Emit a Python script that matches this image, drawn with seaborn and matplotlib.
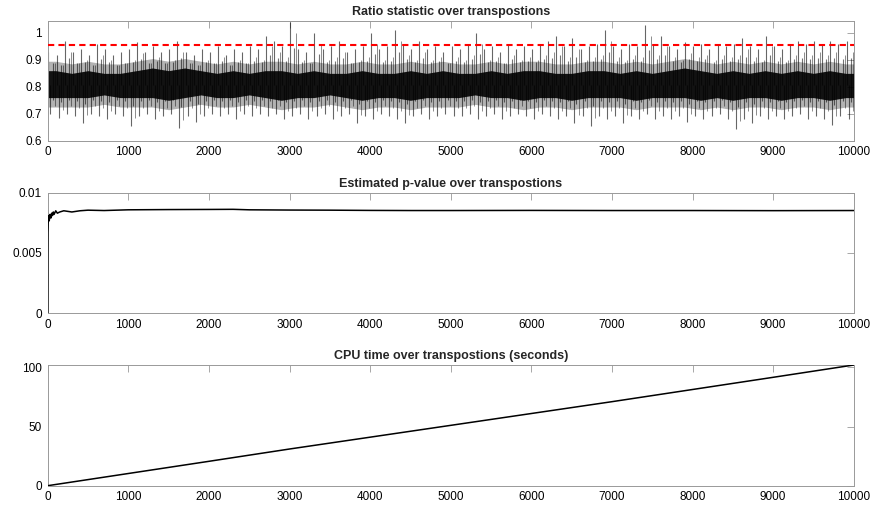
import numpy as np
import pandas as pd
import seaborn as sns
import matplotlib.pyplot as plt
from matplotlib.ticker import FuncFormatter

# ---- data ----
# panel 1: ratio statistic, 10000 transpositions, summarised per 100-wide bin
bin_width = 100
ratio_hi = [0.93, 0.92, 0.97, 0.93, 0.94, 0.92, 0.96, 0.94, 0.92, 0.93,
            0.94, 0.965, 0.93, 0.95, 0.93, 0.94, 0.97, 0.93, 0.92, 0.94,
            0.93, 0.95, 0.92, 0.94, 0.93, 0.95, 0.94, 0.99, 0.97, 0.95,
            1.04, 0.94, 0.93, 1.00, 0.94, 0.95, 0.97, 0.93, 0.94, 0.95,
            1.00, 0.94, 0.95, 1.01, 0.96, 0.94, 0.97, 0.94, 0.95, 0.93,
            0.95, 0.94, 0.96, 1.00, 0.94, 0.95, 0.93, 0.96, 0.94, 0.95,
            0.94, 0.96, 0.97, 0.99, 0.95, 0.98, 0.94, 0.95, 0.96, 1.01,
            0.95, 0.94, 0.96, 0.95, 1.03, 0.96, 0.99, 0.95, 0.94, 0.965,
            0.95, 0.96, 0.94, 0.96, 0.95, 0.96, 0.98, 0.95, 0.94, 0.99,
            0.95, 0.94, 0.96, 0.97, 0.96, 0.97, 0.96, 0.97, 0.96, 0.97]
ratio_lo = [0.70, 0.685, 0.70, 0.69, 0.665, 0.70, 0.69, 0.68, 0.70, 0.69,
            0.655, 0.69, 0.70, 0.68, 0.69, 0.70, 0.648, 0.69, 0.67, 0.69,
            0.70, 0.69, 0.70, 0.68, 0.70, 0.69, 0.70, 0.69, 0.70, 0.68,
            0.69, 0.70, 0.68, 0.69, 0.70, 0.68, 0.69, 0.70, 0.665, 0.69,
            0.68, 0.70, 0.69, 0.68, 0.665, 0.69, 0.70, 0.68, 0.69, 0.70,
            0.69, 0.69, 0.70, 0.68, 0.69, 0.70, 0.68, 0.69, 0.70, 0.69,
            0.68, 0.70, 0.69, 0.68, 0.69, 0.665, 0.69, 0.655, 0.69, 0.68,
            0.69, 0.665, 0.69, 0.68, 0.70, 0.68, 0.69, 0.68, 0.69, 0.67,
            0.69, 0.68, 0.69, 0.70, 0.68, 0.645, 0.68, 0.665, 0.69, 0.68,
            0.69, 0.68, 0.69, 0.70, 0.68, 0.69, 0.68, 0.66, 0.69, 0.68]
# dense core of the trace, per 200-wide bin
core_width = 200
core_hi = [0.87, 0.86, 0.87, 0.86, 0.86, 0.87, 0.88, 0.87, 0.88, 0.87,
           0.86, 0.87, 0.86, 0.87, 0.87, 0.86, 0.87, 0.86, 0.86, 0.87,
           0.86, 0.86, 0.87, 0.86, 0.87, 0.86, 0.86, 0.87, 0.86, 0.87,
           0.87, 0.86, 0.86, 0.87, 0.87, 0.86, 0.87, 0.86, 0.87, 0.88,
           0.87, 0.86, 0.87, 0.86, 0.87, 0.86, 0.87, 0.86, 0.87, 0.86]
core_lo = [0.75, 0.75, 0.75, 0.76, 0.75, 0.75, 0.75, 0.74, 0.75, 0.76,
           0.75, 0.75, 0.76, 0.75, 0.74, 0.75, 0.75, 0.76, 0.75, 0.74,
           0.75, 0.75, 0.74, 0.75, 0.75, 0.75, 0.76, 0.75, 0.75, 0.74,
           0.75, 0.75, 0.74, 0.75, 0.75, 0.75, 0.74, 0.75, 0.75, 0.75,
           0.74, 0.75, 0.74, 0.75, 0.75, 0.74, 0.75, 0.75, 0.74, 0.75]
ratio_center = 0.805
threshold = 0.955

# panel 2: estimated p-value
pval_x = [0, 1, 2, 3, 5, 8, 10, 15, 20, 25, 30, 40, 50, 60, 70, 80, 100, 120,
          150, 200, 300, 400, 500, 700, 1000, 1500, 2000, 2300, 2500, 3000,
          3500, 4000, 4500, 5000, 6000, 7000, 8000, 9000, 10000]
pval_y = [0, 0, 0.0050, 0.0067, 0.0071, 0.0080, 0.0076, 0.0081, 0.0077, 0.0080,
          0.0082, 0.0079, 0.0083, 0.0081, 0.0084, 0.0082, 0.0085, 0.0083,
          0.0084, 0.0085, 0.0084, 0.0085, 0.00855, 0.00852, 0.00858, 0.00860,
          0.00861, 0.00862, 0.00858, 0.00856, 0.00855, 0.00853, 0.00852,
          0.00852, 0.00853, 0.00852, 0.00852, 0.00851, 0.00852]

# panel 3: cpu time
cpu_x = [0, 1000, 2000, 3000, 4000, 5000, 6000, 7000, 8000, 9000, 10000]
cpu_y = [0, 10.3, 20.6, 31.0, 41.0, 51.0, 61.0, 71.0, 81.3, 91.6, 102.0]

titles = ["Ratio statistic over transpostions",
          "Estimated p-value over transpostions",
          "CPU time over transpostions (seconds)"]

# ---- styling ----
sns.set_theme(style="white")
plt.rcParams['font.family'] = ['Liberation Sans', 'DejaVu Sans']
edge = '0.6'

fig = plt.figure(figsize=(8.73, 5.08), dpi=100)
left, width = 0.0546, 0.9234
ax1 = fig.add_axes([left, 0.723, width, 0.236])
ax2 = fig.add_axes([left, 0.3833, width, 0.2374])
ax3 = fig.add_axes([left, 0.0439, width, 0.2376])

def gfmt(v, pos):
    return '%g' % v

for ax, t in zip([ax1, ax2, ax3], titles):
    ax.set_xlim(0, 10000)
    ax.set_xticks(range(0, 10001, 1000))
    ax.tick_params(direction='in', top=True, right=True, length=5, width=0.6,
                   color=edge, labelsize=8.5, labelcolor='black', pad=4)
    for s in ax.spines.values():
        s.set_color(edge)
        s.set_linewidth(0.7)
    ax.yaxis.set_major_formatter(FuncFormatter(gfmt))
    ax.set_title(t, fontsize=9, fontweight='bold', pad=4)

# panel 1: dense core plus spikes out to the per-bin extremes
hi = np.array(ratio_hi)
lo = np.array(ratio_lo)
bins = np.arange(len(hi)) * bin_width
cx = np.arange(len(core_hi)) * core_width + core_width / 2
cx = np.concatenate([[0], cx, [10000]])
c_lo = np.array([core_lo[0]] + core_lo + [core_lo[-1]])
c_hi = np.array([core_hi[0]] + core_hi + [core_hi[-1]])
ax1.fill_between(cx, c_lo - 0.025, c_hi + 0.025, color='black', lw=0, alpha=0.3)
ax1.fill_between(cx, c_lo + 0.01, c_hi - 0.01, color='black', lw=0, alpha=0.9)
# spikes: full length to the read extremes, and partial ones in between
ax1.vlines(bins + 10, ratio_center, hi, color='black', lw=0.8, alpha=0.6)
ax1.vlines(bins + 35, lo, ratio_center, color='black', lw=0.8, alpha=0.6)
ax1.vlines(bins + 60, (lo + ratio_center) / 2, (hi + ratio_center) / 2 + 0.02,
           color='black', lw=0.8, alpha=0.55)
ax1.vlines(bins + 85, lo + 0.03, hi - 0.04, color='black', lw=0.7, alpha=0.45)
ax1.axhline(threshold, color='red', lw=1.5, ls=(0, (3, 2)), zorder=3)
ax1.set_ylim(0.6, 1.045)
ax1.set_yticks([0.6, 0.7, 0.8, 0.9, 1.0])

# panel 2
pdf = pd.DataFrame({'x': pval_x, 'p': pval_y})
sns.lineplot(data=pdf, x='x', y='p', ax=ax2, color='black', lw=1.1, zorder=3)
ax2.set_ylim(0, 0.01)
ax2.set_yticks([0, 0.005, 0.01])

# panel 3
cdf = pd.DataFrame({'x': cpu_x, 't': cpu_y})
sns.lineplot(data=cdf, x='x', y='t', ax=ax3, color='black', lw=1.1, zorder=3)
ax3.set_ylim(0, 102)
ax3.set_yticks([0, 50, 100])

for ax in [ax1, ax2, ax3]:
    ax.set_xlabel('')
    ax.set_ylabel('')

fig.savefig('out.png', dpi=100)
